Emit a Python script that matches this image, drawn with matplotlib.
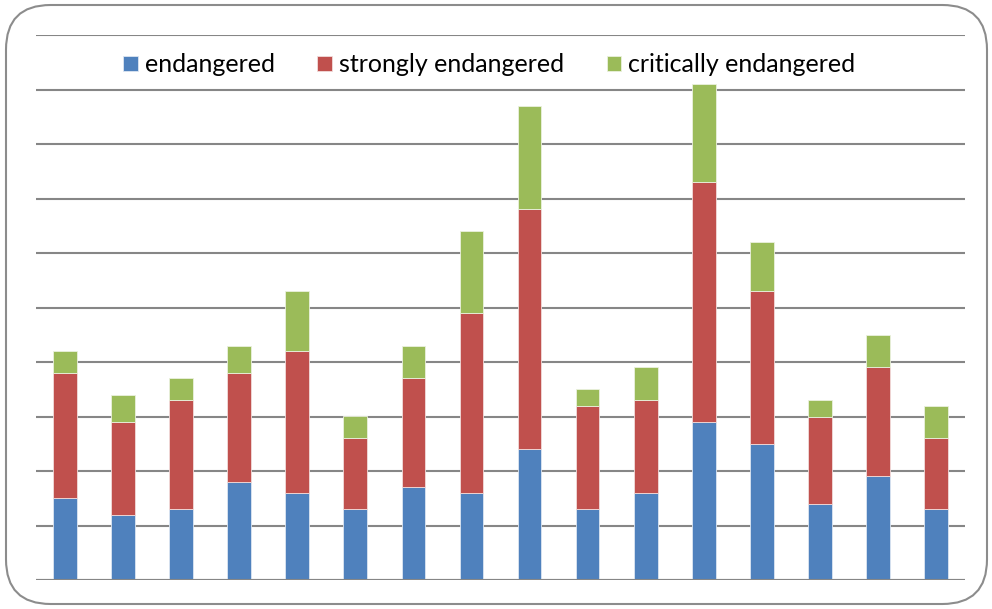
import matplotlib.pyplot as plt
from matplotlib.patches import FancyBboxPatch
import numpy as np

# valores (1 linha de grade = 10)
endangered = [15, 12, 13, 18, 16, 13, 17, 16, 24, 13, 16, 29, 25, 14, 19, 13]
strongly = [23, 17, 20, 20, 26, 13, 20, 33, 44, 19, 17, 44, 28, 16, 20, 13]
critically = [4, 5, 4, 5, 11, 4, 6, 15, 19, 3, 6, 18, 9, 3, 6, 6]
labels = ['endangered', 'strongly endangered', 'critically endangered']
colors = ['#4F81BD', '#C0504D', '#9BBB59']

plt.rcParams['font.family'] = ['Lato', 'DejaVu Sans']

fig = plt.figure(figsize=(9.92, 6.09), dpi=100)
ax = fig.add_axes([36 / 992, 1 - 580 / 609, 929 / 992, 545 / 609])

x = np.arange(len(endangered))
b1 = np.array(endangered)
b2 = b1 + np.array(strongly)
w = 0.41
ax.bar(x, endangered, w, color=colors[0], edgecolor='#DCE6F2', linewidth=0.6, label=labels[0], zorder=3)
ax.bar(x, strongly, w, bottom=b1, color=colors[1], edgecolor='#F2DCDB', linewidth=0.6, label=labels[1], zorder=3)
ax.bar(x, critically, w, bottom=b2, color=colors[2], edgecolor='#EBF1DE', linewidth=0.6, label=labels[2], zorder=3)

ax.set_xlim(-0.5, len(x) - 0.5)
ax.set_ylim(0, 100)
ax.set_yticks(np.arange(0, 101, 10))
ax.yaxis.grid(True, color='#868686', linewidth=1.5, zorder=0)
ax.tick_params(left=False, bottom=False, labelleft=False, labelbottom=False)
for s in ax.spines.values():
    s.set_visible(False)
ax.axhline(0, color='#868686', linewidth=1.5, zorder=4)

ax.legend(loc='center', bbox_to_anchor=(0.488, 0.945), ncol=3, frameon=False,
          fontsize=18, handlelength=0.58, handleheight=0.58, handletextpad=0.28,
          columnspacing=1.7, borderaxespad=0)

border = FancyBboxPatch((6 / 992, 5 / 609), 981 / 992, 599 / 609,
                        boxstyle='round,pad=0,rounding_size=0.045',
                        transform=fig.transFigure, facecolor='none',
                        edgecolor='#8C8C8C', linewidth=1.5, mutation_aspect=992 / 609)
fig.patches.append(border)

fig.savefig('out.png', dpi=100)
